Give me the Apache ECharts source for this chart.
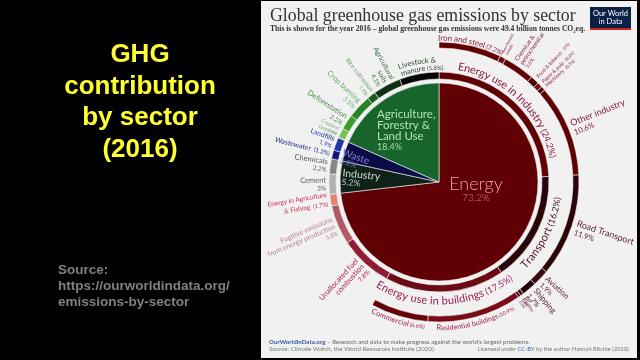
<!DOCTYPE html>
<html><head><meta charset="utf-8">
<script src="https://cdn.jsdelivr.net/npm/echarts@6/dist/echarts.min.js"></script>
<style>html,body{margin:0;padding:0;background:#000;}#c{width:640px;height:360px;}</style>
</head><body><div id="c"></div>
<script>
// ---------------- data ----------------
const sectorNames = ['Energy', 'Industry', 'Waste', 'Agriculture, Forestry & Land Use'];
const sectorValues = [73.2, 5.2, 3.2, 18.4];

const energyNames = ['Energy use in Industry', 'Transport', 'Energy use in buildings', 'Unallocated fuel combustion', 'Fugitive emissions from energy production', 'Energy in Agriculture & Fishing'];
const energyValues = [24.2, 16.2, 17.5, 7.8, 5.8, 1.7];
const industryNames = ['Cement', 'Chemicals'];
const industryValues = [3, 2.2];
const wasteNames = ['Wastewater', 'Landfills'];
const wasteValues = [1.3, 1.9];
const landNames = ['Grassland', 'Cropland', 'Deforestation', 'Crop burning', 'Rice cultivation', 'Agricultural soils', 'Livestock & manure'];
const landValues = [0.1, 1.4, 2.2, 3.5, 1.3, 4.1, 5.8];

const industryUseNames = ['Iron and steel', 'Non-ferrous metals', 'Chemical & petrochemical', 'Food & tobacco', 'Paper & pulp', 'Machinery', 'Other industry'];
const industryUseValues = [7.2, 0.7, 3.6, 1.0, 0.6, 0.5, 10.6];
const transportNames = ['Road Transport', 'Aviation', 'Shipping', 'Rail', 'Pipeline'];
const transportValues = [11.9, 1.9, 1.7, 0.4, 0.3];
const buildingNames = ['Residential buildings', 'Commercial'];
const buildingValues = [10.9, 6.6];

const totalEmissions = 49.4;

// ---------------- styles ----------------
const CX = 439, CY = 182;
const FONT = 'Lato';
const colors = {
  'Energy': '#600004', 'Industry': '#0f2217', 'Waste': '#0c0d48', 'Agriculture, Forestry & Land Use': '#17652b',
  'Energy use in Industry': '#5e0004', 'Transport': '#2a0507', 'Energy use in buildings': '#6c0a14',
  'Unallocated fuel combustion': '#8e1c32', 'Fugitive emissions from energy production': '#b05a68',
  'Energy in Agriculture & Fishing': '#e8826a', 'Cement': '#b0b0b0', 'Chemicals': '#858585',
  'Wastewater': '#13137e', 'Landfills': '#2535a8', 'Grassland': '#a8d890', 'Cropland': '#78c050',
  'Deforestation': '#3a9a2a', 'Crop burning': '#268226', 'Rice cultivation': '#1a5a1e',
  'Agricultural soils': '#0f2e13', 'Livestock & manure': '#050805',
  'Iron and steel': '#5e0004', 'Non-ferrous metals': '#6e0c12', 'Chemical & petrochemical': '#5e0004',
  'Food & tobacco': '#480002', 'Paper & pulp': '#6e0c12', 'Machinery': '#480002', 'Other industry': '#5e0004',
  'Road Transport': '#2a0406', 'Aviation': '#3c0a0c', 'Shipping': '#1c0203', 'Rail': '#4a0a0e', 'Pipeline': '#2a0406',
  'Residential buildings': '#7a0c1a', 'Commercial': '#660008'
};
// radial outside labels: text override, percent layout, font size, colour
const labelStyle = {
  'Unallocated fuel combustion': {text: 'Unallocated fuel\ncombustion', pct: 'nl', size: 7.5, color: '#b0204c'},
  'Fugitive emissions from energy production': {text: 'Fugitive emissions\nfrom energy production', pct: 'nl', size: 7, color: '#b8808a'},
  'Energy in Agriculture & Fishing': {text: 'Energy in Agriculture\n& Fishing', pct: 'inline', size: 6.5, color: '#c8304e'},
  'Cement': {pct: 'nl', size: 7.5, color: '#555'},
  'Chemicals': {pct: 'nl', size: 7.5, color: '#555'},
  'Wastewater': {pct: 'inline', size: 7, color: '#2a2a8a'},
  'Landfills': {pct: 'nl', size: 7, color: '#3344b0'},
  'Grassland': {pct: 'nl', size: 4.5, color: '#6a9a6a'},
  'Cropland': {pct: 'nl', size: 5, color: '#7ab07a'},
  'Deforestation': {pct: 'nl', size: 7.5, color: '#4e8a4e'},
  'Crop burning': {pct: 'nl', size: 7.5, color: '#6aaa6a'},
  'Rice cultivation': {pct: 'nl', size: 6, color: '#6a9a6a'},
  'Agricultural soils': {text: 'Agricultural\nsoils', pct: 'nl', size: 7, color: '#3a6a3a'},
  'Non-ferrous metals': {text: 'Non-ferrous\nmetals', pct: 'none', size: 4, color: '#8a1a3a'},
  'Chemical & petrochemical': {text: 'Chemical &\npetrochemical', pct: 'nl', size: 6, color: '#8a1a3a'},
  'Food & tobacco': {pct: 'inline', size: 5, color: '#8a1a3a'},
  'Paper & pulp': {pct: 'inline', size: 5, color: '#8a1a3a'},
  'Machinery': {pct: 'inline', size: 5, color: '#8a1a3a'},
  'Other industry': {pct: 'nl', size: 9, color: '#8a1a3a'},
  'Road Transport': {pct: 'nl', size: 9, color: '#5a1a2a'},
  'Aviation': {pct: 'nl', size: 8, color: '#5a1a2a'},
  'Shipping': {pct: 'nl', size: 8, color: '#5a1a2a'},
  'Rail': {pct: 'nl', size: 4.5, color: '#5a1a2a'},
  'Pipeline': {pct: 'nl', size: 4.5, color: '#5a1a2a'}
};
// curved labels (N = name, P = "(value%)")
const curvedStyle = [
  {name: 'Energy use in Industry', color: '#8b1a3f', lines: [{r: 117, parts: [['N', 11], [' P', 9]]}]},
  {name: 'Transport', color: '#4a1020', lines: [{r: 119, parts: [['N', 11], [' P', 9]]}]},
  {name: 'Energy use in buildings', color: '#9c1c4c', lines: [{r: 119, parts: [['N', 11], [' P', 9]]}]},
  {name: 'Livestock & manure', color: '#2e4a2e', align: 'start', lines: [{r: 122, parts: [['Livestock &', 7.5]]}, {r: 114.5, parts: [['manure', 7.5], [' P', 6]]}]},
  {name: 'Iron and steel', color: '#8a1a3a', lines: [{r: 144, parts: [['N', 8], [' P', 6.5]]}]},
  {name: 'Residential buildings', color: '#9c1c4c', lines: [{r: 146, parts: [['N', 7], [' P', 5]]}]},
  {name: 'Commercial', color: '#9c1c4c', lines: [{r: 145, parts: [['N', 7.5], [' P', 5.5]]}]}
];

// ---------------- build ----------------
const fmt = v => (Math.round(v * 10) / 10) + '%';
const ring2 = {};
ring2[sectorNames[0]] = [energyNames, energyValues];
ring2[sectorNames[1]] = [industryNames, industryValues];
ring2[sectorNames[2]] = [wasteNames, wasteValues];
ring2[sectorNames[3]] = [landNames, landValues];
const ring3 = {};
ring3[energyNames[0]] = [industryUseNames, industryUseValues];
ring3[energyNames[1]] = [transportNames, transportValues];
ring3[energyNames[2]] = [buildingNames, buildingValues];

const valueOf = {}, span = {};
let acc = 0;
sectorNames.forEach((s, i) => {
  let a2 = acc;
  ring2[s][0].forEach((n2, j) => {
    const v2 = ring2[s][1][j];
    valueOf[n2] = v2; span[n2] = [a2, a2 + v2];
    if (ring3[n2]) {
      let a3 = a2;
      ring3[n2][0].forEach((n3, k) => { const v3 = ring3[n2][1][k]; valueOf[n3] = v3; span[n3] = [a3, a3 + v3]; a3 += v3; });
    }
    a2 += v2;
  });
  acc += sectorValues[i];
});

function radialLabel(name, value) {
  const st = labelStyle[name];
  if (!st) return {show: false};
  const txt = st.text || name;
  const ps = Math.max(3.5, st.size * 0.85);
  let f;
  if (st.pct === 'nl') f = '{n|' + txt + '}\n{p|' + fmt(value) + '}';
  else if (st.pct === 'inline') f = '{n|' + txt + '} {p|(' + fmt(value) + ')}';
  else f = '{n|' + txt + '}';
  return {
    show: true, formatter: f, color: st.color,
    rich: {n: {fontSize: st.size, lineHeight: st.size * 1.08, color: st.color, fontFamily: FONT},
           p: {fontSize: ps, lineHeight: st.size * 1.08, color: st.color, fontFamily: FONT}}
  };
}
function node(name, value, children) {
  const o = {name: name, value: value, itemStyle: {color: colors[name]}, label: radialLabel(name, value)};
  if (children) o.children = children;
  return o;
}
const sunData = sectorNames.map((s, i) => {
  const [n2s, v2s] = ring2[s];
  const kids = n2s.map((n2, j) => {
    let k3 = null;
    if (ring3[n2]) k3 = ring3[n2][0].map((n3, k) => node(n3, ring3[n2][1][k]));
    return node(n2, v2s[j], k3);
  });
  const o = node(s, sectorValues[i], kids);
  o.label = {show: false};
  return o;
});

// curved label rendering through the polar coordinate system
const mctx = document.createElement('canvas').getContext('2d');
function measure(ch, size) { mctx.font = size + 'px ' + FONT; return mctx.measureText(ch).width; }
function renderCurved(params, api) {
  const spec = curvedStyle[api.value(2)];
  const s = api.value(0), e = api.value(1);
  const mid = (s + e) / 2;
  const bottom = mid > 25 && mid < 75;
  const dir = bottom ? -1 : 1;
  const toRad = p => p / 100 * 2 * Math.PI;
  const children = [];
  spec.lines.forEach(line => {
    const r = line.r;
    const mainSize = line.parts[0][1];
    const chars = [];
    line.parts.forEach(([t, sz]) => {
      const text = t.replace('N', spec.name).replace('P', '(' + fmt(valueOf[spec.name]) + ')');
      for (const ch of text) chars.push({ch: ch, size: sz, w: measure(ch, sz)});
    });
    const W = chars.reduce((a, c) => a + c.w, 0);
    let base, c0;
    if (spec.align === 'start') { base = toRad(bottom ? e : s) + dir * 3 / r; c0 = 0; }
    else { base = toRad(mid); c0 = -W / 2; }
    let cum = 0;
    chars.forEach(c => {
      const rr = r + (bottom ? 1 : -1) * (mainSize - c.size) * 0.3;
      const off = c0 + cum + c.w / 2;
      const th = base + dir * off / rr;
      cum += c.w;
      const pct = th / (2 * Math.PI) * 100;
      const pt = api.coord([rr, pct]);
      children.push({
        type: 'text', x: pt[0], y: pt[1], rotation: bottom ? Math.PI - th : -th,
        style: {text: c.ch, fill: spec.color, font: c.size + 'px ' + FONT, align: 'center', verticalAlign: 'middle'}
      });
    });
  });
  return {type: 'group', children: children};
}
const curvedData = curvedStyle.map((c, i) => [span[c.name][0], span[c.name][1], i]);

// ---------------- chart ----------------
const chart = echarts.init(document.getElementById('c'), null, {renderer: 'canvas'});
const pctE = fmt(sectorValues[0]);
chart.setOption({
  backgroundColor: '#000',
  animation: false,
  polar: {center: [CX, CY], radius: 150},
  angleAxis: {type: 'value', min: 0, max: 100, startAngle: 90, clockwise: true, show: false},
  radiusAxis: {type: 'value', min: 0, max: 150, show: false},
  graphic: [
    {type: 'rect', z: -10, shape: {x: 261, y: 1, width: 376, height: 357}, style: {fill: '#f1f1f1'}},
    // left slide text
    {type: 'text', x: 140, y: 55, style: {text: 'GHG', font: 'bold 26px "Liberation Sans"', fill: '#ffff33', align: 'center', verticalAlign: 'middle'}},
    {type: 'text', x: 140, y: 87, style: {text: 'contribution', font: 'bold 26px "Liberation Sans"', fill: '#ffff33', align: 'center', verticalAlign: 'middle'}},
    {type: 'text', x: 140, y: 118, style: {text: 'by sector', font: 'bold 26px "Liberation Sans"', fill: '#ffff33', align: 'center', verticalAlign: 'middle'}},
    {type: 'text', x: 140, y: 150, style: {text: '(2016)', font: 'bold 26px "Liberation Sans"', fill: '#ffff33', align: 'center', verticalAlign: 'middle'}},
    {type: 'text', x: 58, y: 270, style: {text: 'Source:', font: 'bold 13.5px "Liberation Sans"', fill: '#808080', verticalAlign: 'middle'}},
    {type: 'text', x: 58, y: 286, style: {text: 'https://ourworldindata.org/', font: 'bold 13.5px "Liberation Sans"', fill: '#808080', verticalAlign: 'middle'}},
    {type: 'text', x: 58, y: 302, style: {text: 'emissions-by-sector', font: 'bold 13.5px "Liberation Sans"', fill: '#808080', verticalAlign: 'middle'}},
    // panel header
    {type: 'text', x: 270, y: 16.5, style: {text: 'Global greenhouse gas emissions by sector', font: '17.8px "Liberation Serif"', fill: '#333', verticalAlign: 'middle'}},
    {type: 'text', x: 270, y: 29.5, style: {text: 'This is shown for the year 2016 – global greenhouse gas emissions were ' + totalEmissions + ' billion tonnes CO₂eq.', font: 'bold 7.6px "Liberation Serif"', fill: '#333', verticalAlign: 'middle'}},
    {type: 'rect', shape: {x: 590, y: 7, width: 41, height: 23}, style: {fill: '#0b2148'}},
    {type: 'rect', shape: {x: 590, y: 28, width: 41, height: 2}, style: {fill: '#ce261e'}},
    {type: 'text', x: 610.5, y: 13.5, style: {text: 'Our World', font: '7.5px Lato', fill: '#fff', align: 'center', verticalAlign: 'middle'}},
    {type: 'text', x: 610.5, y: 21.5, style: {text: 'in Data', font: '7.5px Lato', fill: '#fff', align: 'center', verticalAlign: 'middle'}},
    // footer
    {type: 'text', x: 269, y: 342.5, style: {text: '{b|OurWorldinData.org}{g| – Research and data to make progress against the world\'s largest problems.}', verticalAlign: 'middle',
      rich: {b: {fontSize: 6.2, fontWeight: 'bold', fontFamily: FONT, fill: '#2d5fa6'}, g: {fontSize: 6.2, fontFamily: FONT, fill: '#666'}}}},
    {type: 'text', x: 269, y: 349.5, style: {text: 'Source: Climate Watch, the World Resources Institute (2020).', font: '6.2px Lato', fill: '#777', verticalAlign: 'middle'}},
    {type: 'text', x: 630, y: 349.5, style: {text: '{g|Licensed under }{l|CC-BY}{g| by the author Hannah Ritchie (2020).}', align: 'right', verticalAlign: 'middle',
      rich: {g: {fontSize: 5.8, fontFamily: FONT, fill: '#777'}, l: {fontSize: 5.8, fontFamily: FONT, fill: '#2d5fa6'}}}},
    // inner sector labels
    {type: 'text', z: 100, x: 476, y: 184, style: {text: sectorNames[0], font: '300 18px Lato', fill: '#e8a4ac', align: 'center', verticalAlign: 'middle'}},
    {type: 'text', z: 100, x: 476, y: 198, style: {text: pctE, font: '300 10px Lato', fill: '#d8808c', align: 'center', verticalAlign: 'middle'}},
    {type: 'text', z: 100, x: 377, y: 109, style: {text: '{n|Agriculture,\nForestry &\nLand Use}\n{p|' + fmt(sectorValues[3]) + '}', verticalAlign: 'top',
      rich: {n: {fontSize: 11.5, lineHeight: 11, fontFamily: FONT, fill: '#b8e0b0'}, p: {fontSize: 9, lineHeight: 11, fontFamily: FONT, fill: '#a8d8a0'}}}},
    {type: 'text', z: 100, x: 344, y: 148, rotation: -0.33, style: {text: '{n|' + sectorNames[2] + '}\n{p|' + fmt(sectorValues[2]) + '}', verticalAlign: 'top',
      rich: {n: {fontSize: 10, lineHeight: 9, fontFamily: FONT, fill: '#8082cc'}, p: {fontSize: 8, lineHeight: 8, fontFamily: FONT, fill: '#7072c0'}}}},
    {type: 'text', z: 100, x: 343, y: 168, rotation: -0.1, style: {text: '{n|' + sectorNames[1] + '}\n{p|' + fmt(sectorValues[1]) + '}', verticalAlign: 'top',
      rich: {n: {fontSize: 10.5, lineHeight: 10, fontFamily: FONT, fill: '#d8d8d8'}, p: {fontSize: 8.5, lineHeight: 8, fontFamily: FONT, fill: '#c8c8c8'}}}}
  ],
  series: [
    {
      type: 'sunburst', center: [CX, CY], radius: [0, 140], sort: null, startAngle: 90, nodeClick: false, silent: true,
      emphasis: {disabled: true},
      itemStyle: {borderWidth: 0.6, borderColor: '#f1f1f1'},
      label: {fontFamily: FONT},
      levels: [
        {},
        {r0: 0, r: 99, label: {show: false}},
        {r0: 103, r: 110, label: {position: 'outside', rotate: 'radial', distance: 3}},
        {r0: 134, r: 140, label: {position: 'outside', rotate: 'radial', distance: 4}}
      ],
      data: sunData
    },
    {type: 'custom', coordinateSystem: 'polar', silent: true, z: 5, clip: false, renderItem: renderCurved, data: curvedData}
  ]
});
</script></body></html>
